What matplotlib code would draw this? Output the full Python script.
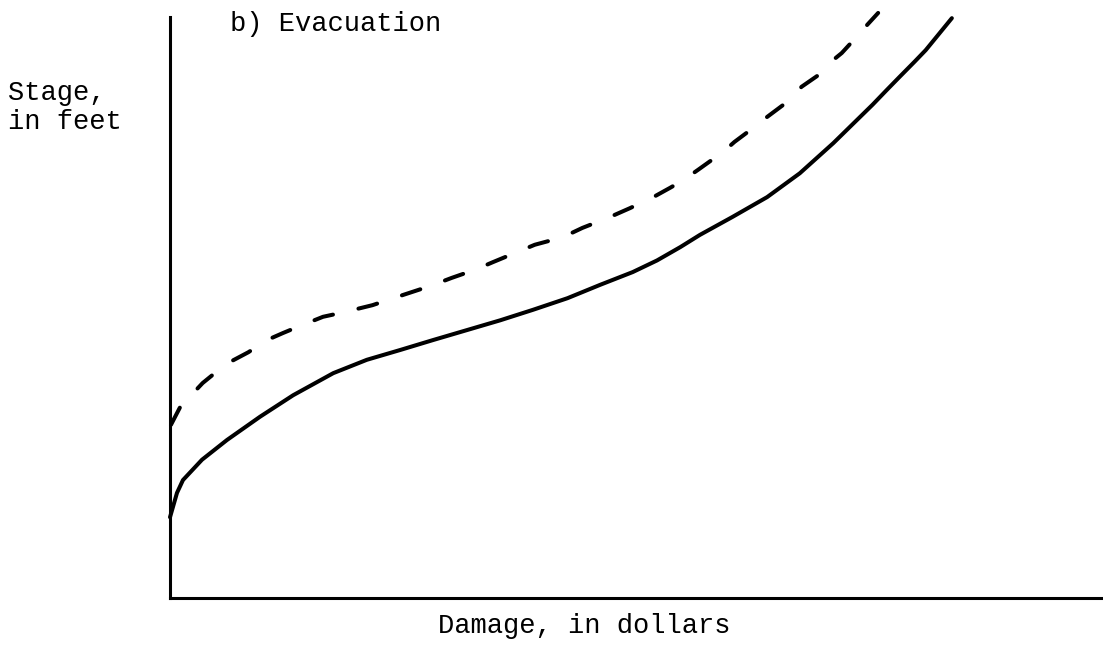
import matplotlib
matplotlib.use("Agg")
import matplotlib.pyplot as plt

# damage (arbitrary units 0-100) vs stage (arbitrary units 0-100)
damage_solid = [0, 0.75, 1.39, 3.43, 6.11, 9.65, 13.2, 17.5, 21.1, 24.7, 28.2, 31.8, 35.4,
                38.9, 42.6, 46.1, 49.6, 52.2, 54.7, 56.8, 60.3, 64.0, 67.5, 71.1,
                75.3, 76.8, 78.2, 79.8, 81.0, 83.8]
stage_solid = [13.9, 18.1, 20.3, 23.8, 27.2, 31.2, 34.9, 38.7, 41.0, 42.7, 44.4, 46.1, 47.8,
               49.6, 51.6, 53.9, 56.1, 58.1, 60.4, 62.5, 65.6, 69.0, 73.1, 78.3,
               84.9, 87.4, 89.7, 92.3, 94.3, 99.8]

damage_dashed = [0.1, 1.1, 2.5, 3.5, 4.8, 6.4, 8.4, 10.4, 12.1, 13.9, 16.4, 18.4, 21.7,
                 24.3, 27.9, 30.2, 32.7, 34.6, 37.3, 39.1, 42.1, 44.2, 46.9, 49.3, 51.8,
                 53.6, 55.0, 56.6, 59.3, 60.5, 62.5, 64.0, 66.0, 67.7, 69.5, 70.7, 72.0,
                 73.2, 74.3, 75.9]
stage_dashed = [29.8, 32.9, 35.3, 37.0, 38.7, 40.6, 42.3, 44.4, 45.6, 46.8, 48.4, 49.1, 50.4,
                51.8, 53.7, 55.1, 56.5, 57.8, 59.6, 60.8, 62.1, 63.7, 65.4, 67.1, 69.0,
                70.6, 71.9, 73.7, 76.8, 78.5, 80.9, 82.8, 85.2, 88.0, 90.0, 92.1, 93.8,
                95.9, 97.9, 100.7]

W, H = 1103, 651
fig = plt.figure(figsize=(W / 100, H / 100), dpi=100)
ax = fig.add_axes([170 / W, 1 - 598 / H, 1 - 170 / W, (598 - 17) / H])

ax.plot(damage_solid, stage_solid, color="black", lw=2.9, clip_on=False,
        solid_capstyle="round", solid_joinstyle="round")
ax.plot(damage_dashed, stage_dashed, color="black", lw=2.9, clip_on=False,
        dashes=(4.8, 6.5), dash_capstyle="round", dash_joinstyle="round")

ax.set_xlim(0, 100)
ax.set_ylim(0, 100)
ax.set_xticks([])
ax.set_yticks([])
for s in ["top", "right"]:
    ax.spines[s].set_visible(False)
for s in ["left", "bottom"]:
    ax.spines[s].set_linewidth(2.2)

font = dict(family="Liberation Mono", fontsize=19.5, color="black")
fig.text(8 / W, 1 - 80 / H, "Stage,\nin feet", va="top", ha="left",
         linespacing=1.15, **font)
fig.text(230 / W, 1 - 11 / H, "b) Evacuation", va="top", ha="left", **font)
fig.text(438 / W, 1 - 613 / H, "Damage, in dollars", va="top", ha="left", **font)

fig.savefig("out.png", dpi=100, facecolor="white")
